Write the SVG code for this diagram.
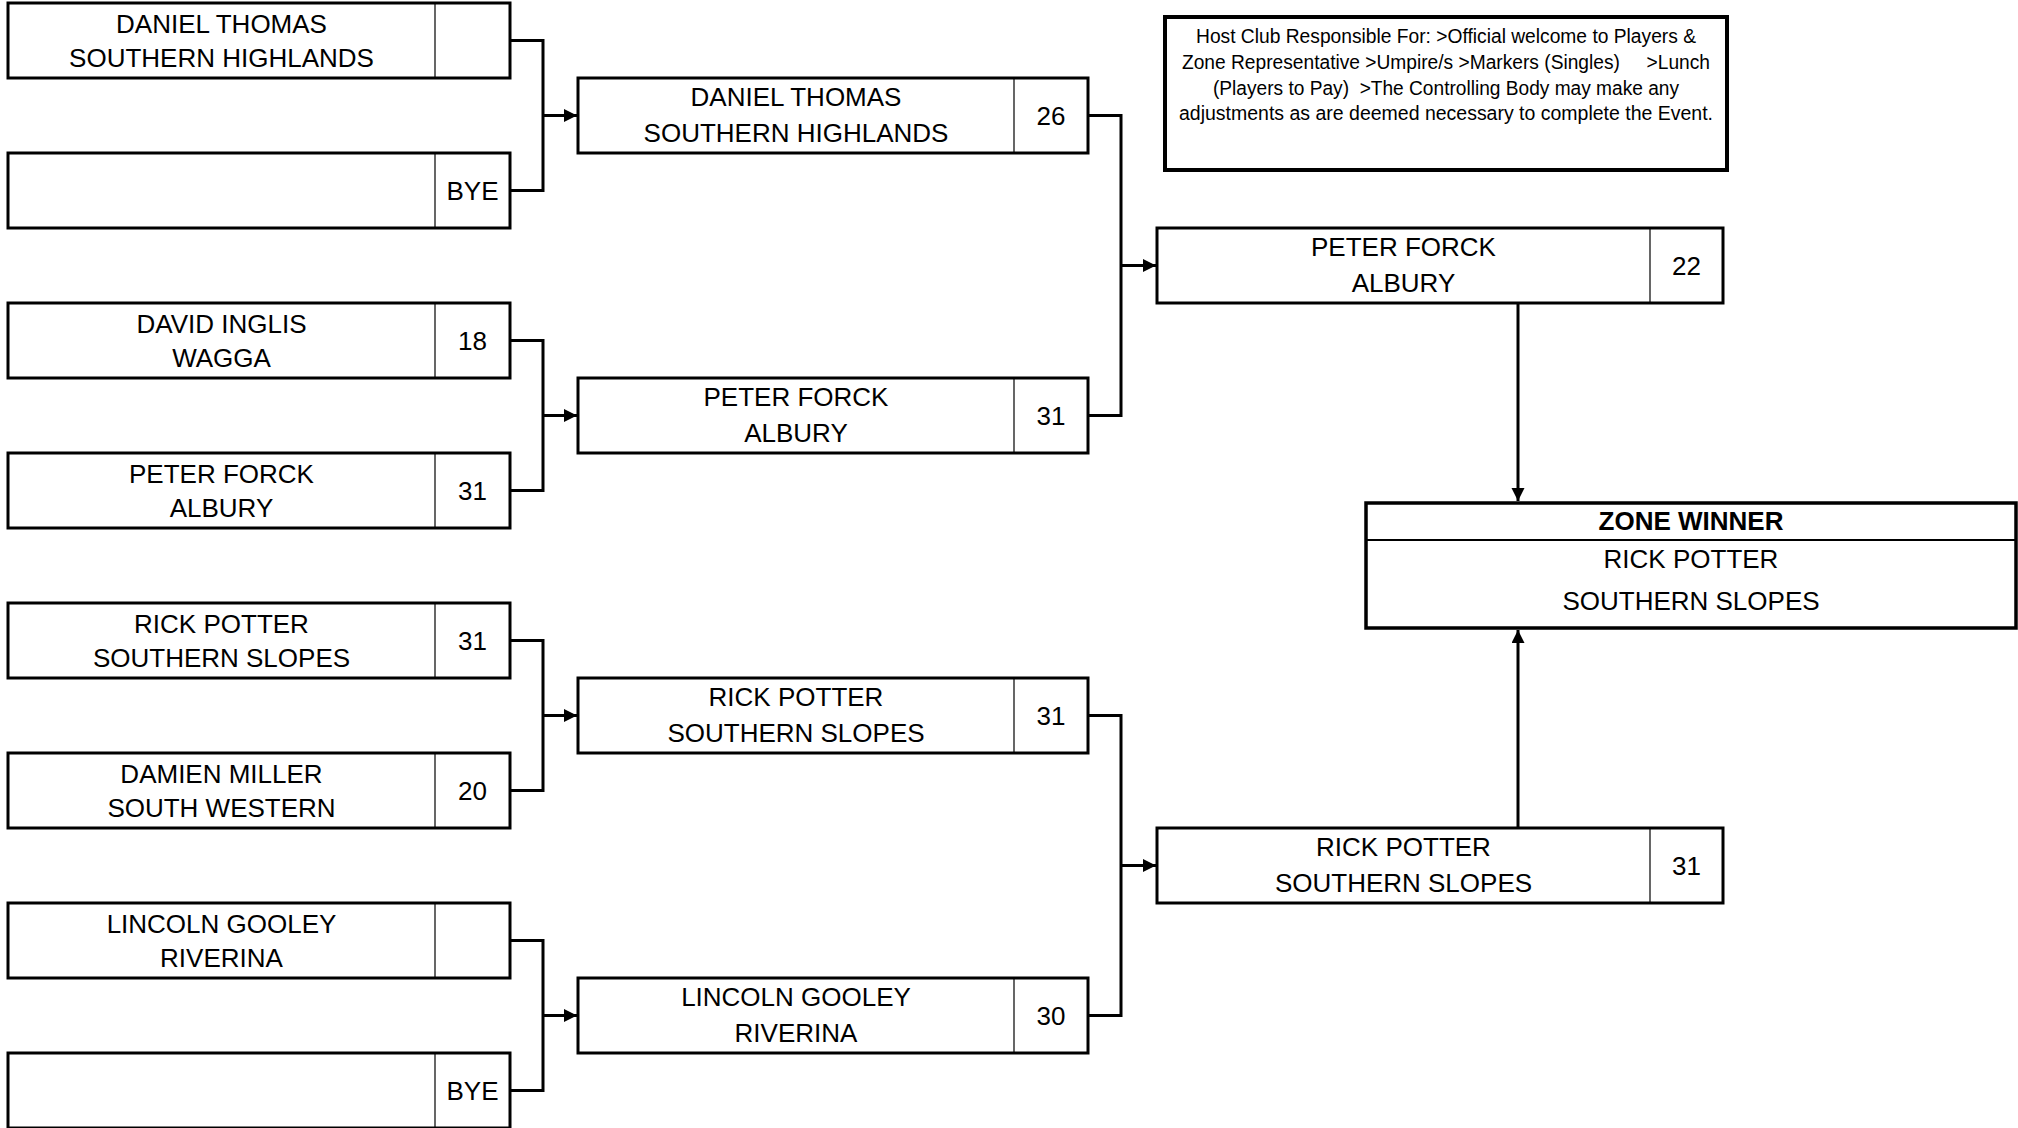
<svg xmlns="http://www.w3.org/2000/svg" width="2018" height="1128" viewBox="0 0 2018 1128">
<style>
.box{fill:#fff;stroke:#000;stroke-width:3}
.div{stroke:#000;stroke-width:1.2}
.con{fill:none;stroke:#000;stroke-width:3}
.t{font-family:"Liberation Sans",Arial,sans-serif;font-size:26px;text-anchor:middle;fill:#000}
.b{font-weight:bold}
.h{font-family:"Liberation Sans",Arial,sans-serif;font-size:20px;text-anchor:middle;fill:#000;white-space:pre}
</style>
<defs>
<marker id="arr" markerUnits="userSpaceOnUse" markerWidth="14" markerHeight="14" refX="13" refY="6.5" orient="auto">
<path d="M0,0 L13,6.5 L0,13 z" fill="#000"/>
</marker>
</defs>

<g id="connectors">
<path class="con" d="M510,40.5 H543 V190.5 H510"/>
<path class="con" d="M543,115.5 H577" marker-end="url(#arr)"/>
<path class="con" d="M510,340.5 H543 V490.5 H510"/>
<path class="con" d="M543,415.5 H577" marker-end="url(#arr)"/>
<path class="con" d="M510,640.5 H543 V790.5 H510"/>
<path class="con" d="M543,715.5 H577" marker-end="url(#arr)"/>
<path class="con" d="M510,940.5 H543 V1090.5 H510"/>
<path class="con" d="M543,1015.5 H577" marker-end="url(#arr)"/>
<path class="con" d="M1088,115.5 H1121 V415.5 H1088"/>
<path class="con" d="M1121,265.5 H1156" marker-end="url(#arr)"/>
<path class="con" d="M1088,715.5 H1121 V1015.5 H1088"/>
<path class="con" d="M1121,865.5 H1156" marker-end="url(#arr)"/>
<path class="con" d="M1518,303 V501" marker-end="url(#arr)"/>
<path class="con" d="M1518,828 V630" marker-end="url(#arr)"/>
</g>

<g id="r1-1"><rect class="box" x="8" y="3" width="502" height="75"/><line class="div" x1="435" y1="3" x2="435" y2="78"/>
<text class="t" x="221.5" y="33">DANIEL THOMAS</text><text class="t" x="221.5" y="67">SOUTHERN HIGHLANDS</text></g>
<g id="r1-2"><rect class="box" x="8" y="153" width="502" height="75"/><line class="div" x1="435" y1="153" x2="435" y2="228"/>
<text class="t" x="472.5" y="199.5">BYE</text></g>
<g id="r1-3"><rect class="box" x="8" y="303" width="502" height="75"/><line class="div" x1="435" y1="303" x2="435" y2="378"/>
<text class="t" x="221.5" y="333">DAVID INGLIS</text><text class="t" x="221.5" y="367">WAGGA</text><text class="t" x="472.5" y="349.5">18</text></g>
<g id="r1-4"><rect class="box" x="8" y="453" width="502" height="75"/><line class="div" x1="435" y1="453" x2="435" y2="528"/>
<text class="t" x="221.5" y="483">PETER FORCK</text><text class="t" x="221.5" y="517">ALBURY</text><text class="t" x="472.5" y="499.5">31</text></g>
<g id="r1-5"><rect class="box" x="8" y="603" width="502" height="75"/><line class="div" x1="435" y1="603" x2="435" y2="678"/>
<text class="t" x="221.5" y="633">RICK POTTER</text><text class="t" x="221.5" y="667">SOUTHERN SLOPES</text><text class="t" x="472.5" y="649.5">31</text></g>
<g id="r1-6"><rect class="box" x="8" y="753" width="502" height="75"/><line class="div" x1="435" y1="753" x2="435" y2="828"/>
<text class="t" x="221.5" y="783">DAMIEN MILLER</text><text class="t" x="221.5" y="817">SOUTH WESTERN</text><text class="t" x="472.5" y="799.5">20</text></g>
<g id="r1-7"><rect class="box" x="8" y="903" width="502" height="75"/><line class="div" x1="435" y1="903" x2="435" y2="978"/>
<text class="t" x="221.5" y="933">LINCOLN GOOLEY</text><text class="t" x="221.5" y="967">RIVERINA</text></g>
<g id="r1-8"><rect class="box" x="8" y="1053" width="502" height="75"/><line class="div" x1="435" y1="1053" x2="435" y2="1128"/>
<text class="t" x="472.5" y="1099.5">BYE</text></g>

<g id="r2-1"><rect class="box" x="578" y="78" width="510" height="75"/><line class="div" x1="1014" y1="78" x2="1014" y2="153"/>
<text class="t" x="796" y="106">DANIEL THOMAS</text><text class="t" x="796" y="142">SOUTHERN HIGHLANDS</text><text class="t" x="1051" y="124.5">26</text></g>
<g id="r2-2"><rect class="box" x="578" y="378" width="510" height="75"/><line class="div" x1="1014" y1="378" x2="1014" y2="453"/>
<text class="t" x="796" y="406">PETER FORCK</text><text class="t" x="796" y="442">ALBURY</text><text class="t" x="1051" y="424.5">31</text></g>
<g id="r2-3"><rect class="box" x="578" y="678" width="510" height="75"/><line class="div" x1="1014" y1="678" x2="1014" y2="753"/>
<text class="t" x="796" y="706">RICK POTTER</text><text class="t" x="796" y="742">SOUTHERN SLOPES</text><text class="t" x="1051" y="724.5">31</text></g>
<g id="r2-4"><rect class="box" x="578" y="978" width="510" height="75"/><line class="div" x1="1014" y1="978" x2="1014" y2="1053"/>
<text class="t" x="796" y="1006">LINCOLN GOOLEY</text><text class="t" x="796" y="1042">RIVERINA</text><text class="t" x="1051" y="1024.5">30</text></g>

<g id="r3-1"><rect class="box" x="1157" y="228" width="566" height="75"/><line class="div" x1="1650" y1="228" x2="1650" y2="303"/>
<text class="t" x="1403.5" y="256">PETER FORCK</text><text class="t" x="1403.5" y="292">ALBURY</text><text class="t" x="1686.5" y="274.5">22</text></g>
<g id="r3-2"><rect class="box" x="1157" y="828" width="566" height="75"/><line class="div" x1="1650" y1="828" x2="1650" y2="903"/>
<text class="t" x="1403.5" y="856">RICK POTTER</text><text class="t" x="1403.5" y="892">SOUTHERN SLOPES</text><text class="t" x="1686.5" y="874.5">31</text></g>

<g id="winner"><rect class="box" x="1366" y="503" width="650" height="125" style="stroke-width:3.5"/>
<line x1="1366" y1="540" x2="2016" y2="540" stroke="#000" stroke-width="2"/>
<text class="t b" x="1691" y="530">ZONE WINNER</text>
<text class="t" x="1691" y="568">RICK POTTER</text>
<text class="t" x="1691" y="610">SOUTHERN SLOPES</text></g>

<g id="host"><rect x="1165" y="17" width="562" height="153" fill="#fff" stroke="#000" stroke-width="4"/>
<text class="h" x="1446" y="43" textLength="500" lengthAdjust="spacingAndGlyphs">Host Club Responsible For: &gt;Official welcome to Players &amp;</text>
<text class="h" x="1446" y="69" textLength="528" lengthAdjust="spacingAndGlyphs">Zone Representative &gt;Umpire/s &gt;Markers (Singles)     &gt;Lunch</text>
<text class="h" x="1446" y="95" textLength="466" lengthAdjust="spacingAndGlyphs">(Players to Pay)  &gt;The Controlling Body may make any</text>
<text class="h" x="1446" y="120" textLength="534" lengthAdjust="spacingAndGlyphs">adjustments as are deemed necessary to complete the Event.</text></g>
</svg>
